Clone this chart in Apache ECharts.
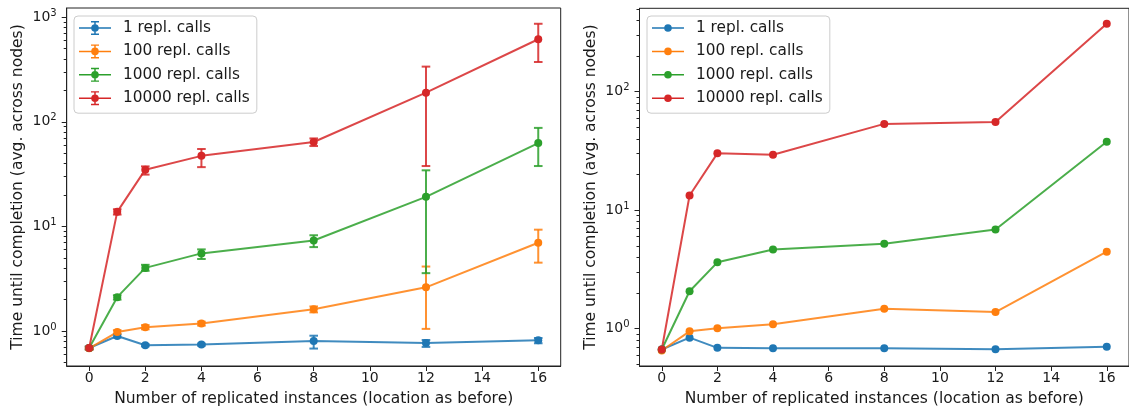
<!DOCTYPE html>
<html>
<head>
<meta charset="utf-8">
<script src="https://cdn.jsdelivr.net/npm/echarts@6/dist/echarts.min.js"></script>
<style>
html,body{margin:0;padding:0;background:#fff;}
#chart{width:1129px;height:412px;}
</style>
</head>
<body>
<div id="chart"></div>
<script>
// ---------- data ----------
const xs = [0, 1, 2, 4, 8, 12, 16];
const seriesNames = ['1 repl. calls', '100 repl. calls', '1000 repl. calls', '10000 repl. calls'];
const colors = ['#1f77b4', '#ff7f0e', '#2ca02c', '#d62728'];

// left panel (mean with error bars)
const leftBlue   = [0.69, 0.897, 0.732, 0.743, 0.805, 0.77, 0.816];
const leftOrange = [0.685, 0.98, 1.09, 1.18, 1.62, 2.62, 6.98];
const leftGreen  = [0.69, 2.11, 4.02, 5.53, 7.34, 19.2, 62.7];
const leftRed    = [0.69, 13.8, 34.9, 47.3, 64.1, 190, 615];

const leftBlueLow   = [0.67, 0.87, 0.715, 0.725, 0.681, 0.706, 0.765];
const leftBlueHigh  = [0.71, 0.93, 0.75, 0.76, 0.904, 0.822, 0.859];
const leftOrangeLow  = [0.67, 0.94, 1.04, 1.13, 1.51, 1.05, 4.51];
const leftOrangeHigh = [0.70, 1.02, 1.14, 1.23, 1.72, 4.14, 9.32];
const leftGreenLow  = [0.67, 2.0, 3.77, 4.89, 6.35, 3.58, 37.8];
const leftGreenHigh = [0.71, 2.2, 4.3, 6.04, 8.24, 34.4, 87.5];
const leftRedLow  = [0.67, 13.0, 31.3, 36.9, 58.7, 37.8, 373];
const leftRedHigh = [0.71, 14.6, 37.5, 55.0, 69.4, 337, 865];

// right panel
const rightBlue   = [0.667, 0.84, 0.689, 0.684, 0.684, 0.671, 0.702];
const rightOrange = [0.654, 0.95, 1.01, 1.09, 1.47, 1.38, 4.46];
const rightGreen  = [0.667, 2.07, 3.63, 4.66, 5.20, 6.86, 37.8];
const rightRed    = [0.667, 13.3, 30.2, 29.4, 53.5, 55.6, 375];

// ticks
const xTicks = [0, 2, 4, 6, 8, 10, 12, 14, 16];
const leftMajor = [1, 10, 100, 1000];
const rightMajor = [1, 10, 100];
const leftMinor = [0.5,0.6,0.7,0.8,0.9,2,3,4,5,6,7,8,9,20,30,40,50,60,70,80,90,200,300,400,500,600,700,800,900];
const rightMinor = [0.5,0.6,0.7,0.8,0.9,2,3,4,5,6,7,8,9,20,30,40,50,60,70,80,90,200,300,400,500];

const xTitle = 'Number of replicated instances (location as before)';
const yTitle = 'Time until completion (avg. across nodes)';

// ---------- build ----------
const leftVals = [leftBlue, leftOrange, leftGreen, leftRed];
const leftLows = [leftBlueLow, leftOrangeLow, leftGreenLow, leftRedLow];
const leftHighs = [leftBlueHigh, leftOrangeHigh, leftGreenHigh, leftRedHigh];
const rightVals = [rightBlue, rightOrange, rightGreen, rightRed];

const axisColor = '#222';
const textColor = '#1a1a1a';
const fontFamily = 'DejaVu Sans';

function makeX(gridIndex) {
  return {
    type: 'value', gridIndex: gridIndex, min: -0.8, max: 16.8,
    splitLine: {show: false},
    axisLine: {show: true, onZero: false, lineStyle: {color: axisColor, width: 1}},
    axisTick: {show: true, inside: false, length: 5, lineStyle: {color: axisColor, width: 1}, customValues: xTicks},
    axisLabel: {show: true, customValues: xTicks, fontSize: 14, color: textColor, fontFamily: fontFamily, margin: 5},
    name: xTitle, nameLocation: 'middle', nameGap: 25,
    nameTextStyle: {fontSize: 15.5, color: textColor, fontFamily: fontFamily}
  };
}
function makeYMain(gridIndex, min, max, major) {
  return {
    type: 'log', logBase: 10, gridIndex: gridIndex, min: min, max: max, position: 'left',
    splitLine: {show: false},
    axisLine: {show: true, onZero: false, lineStyle: {color: axisColor, width: 1}},
    axisTick: {show: true, length: 5, lineStyle: {color: axisColor, width: 1}, customValues: major},
    axisLabel: {
      show: true, customValues: major, margin: 10, color: textColor, fontFamily: fontFamily,
      formatter: function (v) {
        const k = Math.round(Math.log10(v));
        return '{b|10}{s|' + k + '}';
      },
      rich: {
        b: {fontSize: 14, color: textColor, fontFamily: fontFamily},
        s: {fontSize: 10, color: textColor, fontFamily: fontFamily, verticalAlign: 'bottom', padding: [0, 0, 8, 0]}
      }
    },
    name: yTitle, nameLocation: 'middle', nameGap: 41, nameRotate: 90,
    nameTextStyle: {fontSize: 15.5, color: textColor, fontFamily: fontFamily}
  };
}
function makeYMinor(gridIndex, min, max, minor) {
  return {
    type: 'log', logBase: 10, gridIndex: gridIndex, min: min, max: max, position: 'left',
    splitLine: {show: false},
    axisLine: {show: false, onZero: false},
    axisTick: {show: true, length: 3, lineStyle: {color: axisColor, width: 1}, customValues: minor},
    axisLabel: {show: false}
  };
}

const errIcon = 'path://M0,7.25h32v1.5h-32z M15.25,1h1.5v14h-1.5z M12,1h8v1.4h-8z M12,13.6h8v1.4h-8z M12.2,8a3.8,3.8 0 1,1 7.6,0a3.8,3.8 0 1,1 -7.6,0z';
const lineIcon = 'path://M0,7.25h32v1.5h-32z M12.2,8a3.8,3.8 0 1,1 7.6,0a3.8,3.8 0 1,1 -7.6,0z M0,1h0.01v0.01h-0.01z M0,15h0.01v0.01h-0.01z';

function legendCfg(left, icon) {
  return {
    orient: 'vertical', left: left, top: 16,
    itemWidth: 32, itemHeight: 14, itemGap: 5.4,
    padding: [3, 7, 6, 5],
    backgroundColor: 'rgba(255,255,255,0.85)', borderColor: '#cccccc', borderWidth: 1, borderRadius: 4,
    textStyle: {fontSize: 15.3, color: textColor, fontFamily: fontFamily, lineHeight: 18, padding: [0, 0, 0, 7]},
    itemStyle: {borderWidth: 0},
    data: seriesNames.map(n => ({name: n, icon: icon})),
    selectedMode: false
  };
}

const series = [];
// left error bars
for (let s = 0; s < 4; s++) {
  const col = colors[s];
  series.push({
    type: 'custom', xAxisIndex: 0, yAxisIndex: 0, clip: true, z: 2,
    data: xs.map((x, i) => [x, leftLows[s][i], leftHighs[s][i]]),
    encode: {x: 0, y: [1, 2]},
    silent: true,
    renderItem: function (params, api) {
      const x = api.value(0), lo = api.value(1), hi = api.value(2);
      const p1 = api.coord([x, lo]), p2 = api.coord([x, hi]);
      const cw = 4.3;
      const st = {stroke: col, lineWidth: 2, opacity: 0.85};
      return {type: 'group', children: [
        {type: 'line', shape: {x1: p1[0], y1: p1[1], x2: p2[0], y2: p2[1]}, style: st},
        {type: 'line', shape: {x1: p1[0] - cw, y1: p1[1], x2: p1[0] + cw, y2: p1[1]}, style: st},
        {type: 'line', shape: {x1: p2[0] - cw, y1: p2[1], x2: p2[0] + cw, y2: p2[1]}, style: st}
      ]};
    }
  });
}
function lineSeries(name, col, vals, xi, yi) {
  return {
    name: name, type: 'line', xAxisIndex: xi, yAxisIndex: yi, z: 3,
    data: xs.map((x, i) => [x, vals[i]]),
    symbol: 'circle', symbolSize: 8, showSymbol: true,
    itemStyle: {color: col},
    lineStyle: {color: col, width: 2, opacity: 0.85},
    emphasis: {disabled: true}, animation: false
  };
}
for (let s = 0; s < 4; s++) series.push(lineSeries(seriesNames[s], colors[s], leftVals[s], 0, 0));
for (let s = 0; s < 4; s++) series.push(lineSeries(seriesNames[s], colors[s], rightVals[s], 1, 2));

const option = {
  animation: false,
  backgroundColor: '#ffffff',
  textStyle: {fontFamily: fontFamily},
  grid: [
    {left: 66.7, top: 8, width: 494, height: 361.3, show: true, borderColor: axisColor, borderWidth: 1, backgroundColor: 'transparent'},
    {left: 639.5, top: 8.3, width: 494, height: 360.2, show: true, borderColor: axisColor, borderWidth: 1, backgroundColor: 'transparent'}
  ],
  xAxis: [makeX(0), makeX(1)],
  yAxis: [
    makeYMain(0, 0.464, 1224, leftMajor),
    makeYMinor(0, 0.464, 1224, leftMinor),
    makeYMain(1, 0.484, 506, rightMajor),
    makeYMinor(1, 0.484, 506, rightMinor)
  ],
  legend: [legendCfg(74, errIcon), legendCfg(647, lineIcon)],
  series: series
};

const chart = echarts.init(document.getElementById('chart'), null, {renderer: 'canvas'});
chart.setOption(option);
</script>
</body>
</html>
